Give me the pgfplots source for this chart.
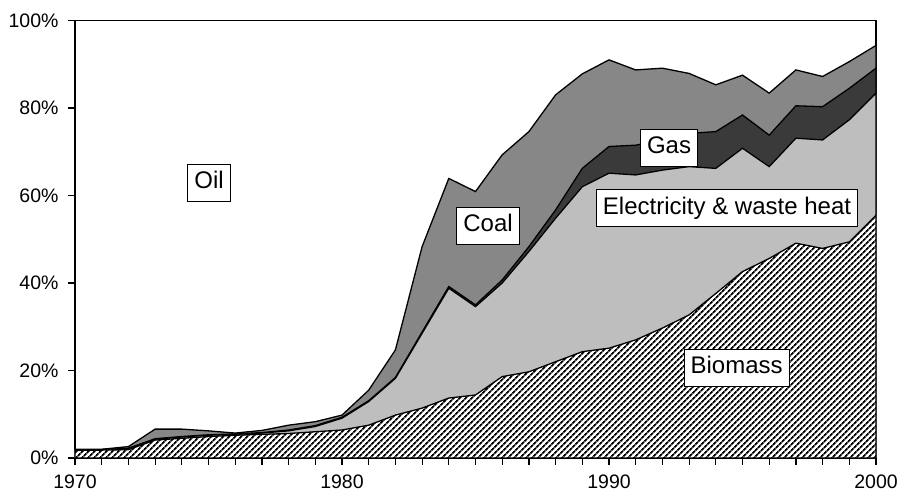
\documentclass[border=0pt]{standalone}
\usepackage{fontspec}
\setmainfont{Liberation Sans}
\usepackage{pgfplots}
\usepackage{pgfplotstable}
\pgfplotsset{compat=1.18}
\usetikzlibrary{patterns.meta}
\definecolor{coalgray}{HTML}{878787}
\definecolor{gasgray}{HTML}{3A3A3A}
\definecolor{elecgray}{HTML}{BEBEBE}

% cumulative shares (%): B = biomass, E = + electricity & waste heat, G = + gas, C = + coal; oil fills to 100
\pgfplotstableread{
year B E G C
1970 1.8 1.9 1.9 2.0
1971 1.8 1.9 1.9 2.0
1972 1.9 2.2 2.2 2.6
1973 4.1 4.3 4.4 6.6
1974 4.5 4.8 4.9 6.6
1975 4.9 5.2 5.3 6.2
1976 5.2 5.4 5.5 5.7
1977 5.4 5.7 5.8 6.3
1978 5.6 6.2 6.4 7.5
1979 6.0 7.2 7.4 8.3
1980 6.4 9.1 9.3 9.8
1981 7.5 12.9 13.1 15.5
1982 9.8 18.2 18.4 24.7
1983 11.4 28.5 28.8 48.3
1984 13.7 38.8 39.2 63.9
1985 14.4 34.6 35.0 60.9
1986 18.6 40.0 40.7 69.3
1987 19.7 47.2 48.3 74.6
1988 22.0 54.8 56.7 83.0
1989 24.3 62.0 66.2 87.8
1990 25.1 65.1 71.2 91.0
1991 27.0 64.7 71.5 88.7
1992 29.7 65.8 72.7 89.1
1993 32.7 66.6 74.2 87.9
1994 37.6 66.2 74.6 85.3
1995 42.6 70.8 78.4 87.5
1996 45.6 66.6 73.8 83.4
1997 49.1 73.1 80.5 88.7
1998 47.9 72.7 80.3 87.2
1999 49.4 77.3 84.5 90.6
2000 55.5 83.4 89.1 94.3
}\data

\begin{document}
\begin{tikzpicture}
\begin{axis}[
  name=ax,
  scale only axis,
  width=801pt, height=437.5pt,
  xmin=1970, xmax=2000, ymin=0, ymax=100,
  axis line style={line width=1.8pt},
  xtick={1970,1980,1990,2000},
  xticklabels={1970,1980,1990,2000},
  minor xtick={1971,...,1979,1981,1982,...,1989,1991,1992,...,1999},
  ytick={0,20,40,60,80,100},
  yticklabels={0\%,20\%,40\%,60\%,80\%,100\%},
  xtick pos=bottom, ytick pos=left,
  tick align=outside,
  major tick length=7pt, minor tick length=7pt,
  tick style={line width=1.2pt, black},
  ticklabel style={font=\fontsize{19.5}{22}\selectfont},
  xticklabel style={yshift=-8.5pt, inner sep=1pt},
  yticklabel style={xshift=-6pt},
]
\addplot[fill=coalgray, draw=black, line width=1.3pt] table[x=year, y=C] {\data} \closedcycle;
\addplot[fill=gasgray, draw=black, line width=1.3pt] table[x=year, y=G] {\data} \closedcycle;
\addplot[fill=elecgray, draw=black, line width=1.3pt] table[x=year, y=E] {\data} \closedcycle;
\addplot[fill=white, draw=none] table[x=year, y=B] {\data} \closedcycle;
\addplot[pattern={Lines[angle=45, distance=4pt, line width=1.8pt]}, draw=black, line width=1.3pt] table[x=year, y=B] {\data} \closedcycle;

\tikzset{lbl/.style={draw=black, line width=0.9pt, fill=white, font=\fontsize{24}{28}\selectfont, text height=18pt, text depth=6pt, inner xsep=6.5pt, inner ysep=6.3pt}}
\node[lbl] at (axis cs:1975.02,62.9) {Oil};
\node[lbl] at (axis cs:1985.47,53.1) {Coal};
\node[lbl] at (axis cs:1992.25,70.9) {Gas};
\node[lbl] at (axis cs:1994.42,57.1) {Electricity \& waste heat};
\node[lbl] at (axis cs:1994.78,20.6) {Biomass};
\end{axis}
\pgfresetboundingbox
\path[use as bounding box] ([xshift=-75pt,yshift=-36pt]ax.south west) rectangle ([xshift=23pt,yshift=20.5pt]ax.north east);
\end{tikzpicture}
\end{document}
